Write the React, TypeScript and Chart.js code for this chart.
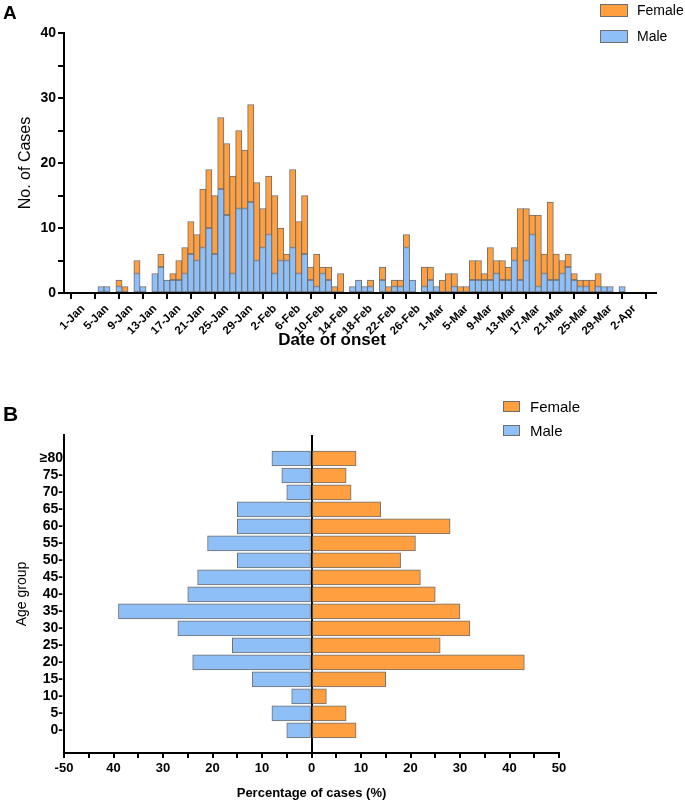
import React, { useEffect, useRef } from 'react';
import { Chart, registerables } from 'chart.js';

Chart.register(...registerables);

const FONT = "'Liberation Sans', Arial, sans-serif";
const ORANGE = '#FF9F40';
const BLUE = '#8EBFF7';
const EDGE = '#6E6E6E';

// ---------- Panel A data (days since 1-Jan, index 0..92) ----------
const dayTickValues = [0, 4, 8, 12, 16, 20, 24, 28, 32, 36, 40, 44, 48, 52, 56, 60, 64, 68, 72, 76, 80, 84, 88, 92];
const dayTickLabels = [
  '1-Jan', '5-Jan', '9-Jan', '13-Jan', '17-Jan', '21-Jan', '25-Jan', '29-Jan',
  '2-Feb', '6-Feb', '10-Feb', '14-Feb', '18-Feb', '22-Feb', '26-Feb',
  '1-Mar', '5-Mar', '9-Mar', '13-Mar', '17-Mar', '21-Mar', '25-Mar', '29-Mar', '2-Apr',
];
const maleDaily = [
  0, 0, 0, 1, 1, 0, 1, 0, 0, 3,
  1, 0, 3, 4, 2, 2, 2, 3, 6, 5,
  7, 10, 6, 16, 12, 3, 13, 13, 14, 5,
  7, 9, 3, 5, 5, 7, 3, 6, 2, 1,
  3, 2, 0, 0, 0, 1, 2, 1, 1, 0,
  2, 0, 1, 1, 7, 2, 0, 1, 2, 1,
  0, 0, 1, 0, 0, 2, 2, 2, 2, 3,
  2, 2, 5, 2, 5, 9, 1, 3, 2, 2,
  3, 4, 2, 1, 1, 0, 1, 1, 1, 0,
  1, 0, 0,
];
const femaleDaily = [
  0, 0, 0, 0, 0, 0, 1, 1, 0, 2,
  0, 0, 0, 2, 0, 1, 3, 4, 5, 4,
  9, 9, 9, 11, 11, 15, 12, 9, 15, 12,
  6, 9, 12, 5, 1, 12, 8, 9, 2, 5,
  1, 2, 1, 3, 0, 0, 0, 0, 1, 0,
  2, 1, 1, 1, 2, 0, 0, 3, 2, 0,
  2, 3, 2, 1, 1, 3, 3, 1, 5, 2,
  3, 2, 2, 11, 8, 3, 11, 3, 12, 4,
  2, 2, 1, 1, 1, 2, 2, 0, 0, 0,
  0, 0, 0,
];

// ---------- Panel B data (bottom to top) ----------
const ageGroups = ['0-', '5-', '10-', '15-', '20-', '25-', '30-', '35-', '40-', '45-', '50-', '55-', '60-', '65-', '70-', '75-', '≥80'];
const maleAgePct = [5, 8, 4, 12, 24, 16, 27, 39, 25, 23, 15, 21, 15, 15, 5, 6, 8];
const femaleAgePct = [9, 7, 3, 15, 43, 26, 32, 30, 25, 22, 18, 21, 28, 14, 8, 7, 9];
const pctTickValues = [-50, -40, -30, -20, -10, 0, 10, 20, 30, 40, 50];
const pctTickLabels = ['-50', '40', '30', '20', '10', '0', '10', '20', '30', '40', '50'];

type LegendItem = { label: string; color: string; x: number; y: number; w: number; h: number; tx: number; size: number };
type ExtraText = { text: string; x: number; y: number; font: string };

function overlayPlugin(id: string, letter: string, lx: number, ly: number, lsize: number, items: LegendItem[], extra: ExtraText[] = []) {
  return {
    id,
    afterDraw(chart: any) {
      const ctx = chart.ctx as CanvasRenderingContext2D;
      ctx.save();
      ctx.fillStyle = '#000';
      ctx.textBaseline = 'alphabetic';
      ctx.textAlign = 'left';
      ctx.font = `bold ${lsize}px ${FONT}`;
      ctx.fillText(letter, lx, ly);
      for (const it of items) {
        ctx.fillStyle = it.color;
        ctx.fillRect(it.x, it.y, it.w, it.h);
        ctx.strokeStyle = EDGE;
        ctx.lineWidth = 1;
        ctx.strokeRect(it.x + 0.5, it.y + 0.5, it.w - 1, it.h - 1);
        ctx.fillStyle = '#000';
        ctx.font = `${it.size}px ${FONT}`;
        ctx.textBaseline = 'middle';
        ctx.fillText(it.label, it.tx, it.y + it.h / 2 + 1);
      }
      for (const e of extra) {
        ctx.fillStyle = '#000';
        ctx.font = e.font;
        ctx.textAlign = 'center';
        ctx.textBaseline = 'middle';
        ctx.fillText(e.text, e.x, e.y);
      }
      ctx.restore();
    },
  };
}

function configA(): any {
  const toPts = (arr: number[]) => arr.map((v, i) => ({ x: i, y: v })).filter((p) => p.y > 0);
  return {
    type: 'bar',
    data: {
      datasets: [
        { label: 'Male', data: toPts(maleDaily), backgroundColor: BLUE, borderColor: EDGE, borderWidth: 1, borderSkipped: false, barThickness: 6.25 },
        { label: 'Female', data: toPts(femaleDaily), backgroundColor: ORANGE, borderColor: EDGE, borderWidth: 1, borderSkipped: false, barThickness: 6.25 },
      ],
    },
    options: {
      responsive: false,
      animation: false,
      layout: { padding: { left: 0, right: 29, top: 33, bottom: 0 } },
      plugins: { legend: { display: false }, tooltip: { enabled: false } },
      scales: {
        x: {
          type: 'linear',
          stacked: true,
          min: -1.12,
          max: 93.6,
          afterBuildTicks: (s: any) => { s.ticks = dayTickValues.map((v) => ({ value: v })); },
          afterFit: (s: any) => { s.height = 57; },
          ticks: {
            autoSkip: false, maxRotation: 45, minRotation: 45, padding: 3, color: '#000',
            font: { family: FONT, size: 11.5, weight: 'bold' },
            callback: (v: number) => { const i = dayTickValues.indexOf(v); return i >= 0 ? dayTickLabels[i] : ''; },
          },
          grid: { drawOnChartArea: false, tickLength: 6, color: '#000', lineWidth: 2 },
          border: { display: true, color: '#000', width: 2 },
          title: { display: false },
        },
        y: {
          stacked: true,
          min: 0,
          max: 40,
          afterFit: (s: any) => { s.width = 64; },
          ticks: {
            stepSize: 5, autoSkip: false, padding: 2, color: '#000',
            font: { family: FONT, size: 14, weight: 'bold' },
            callback: (v: number) => (v % 10 === 0 ? String(v) : ''),
          },
          grid: { drawOnChartArea: false, tickLength: 6, color: '#000', lineWidth: 2 },
          border: { display: true, color: '#000', width: 2 },
          title: { display: true, text: 'No. of Cases', color: '#000', font: { family: FONT, size: 16, weight: 'normal' }, padding: { top: 16, bottom: 0 } },
        },
      },
    },
    plugins: [
      overlayPlugin('overlayA', 'A', 3, 19, 19, [
        { label: 'Female', color: ORANGE, x: 600, y: 4, w: 28, h: 13, tx: 637, size: 14 },
        { label: 'Male', color: BLUE, x: 600, y: 30, w: 28, h: 13, tx: 637, size: 14 },
      ], [
        { text: 'Date of onset', x: 332, y: 340, font: `bold 17px ${FONT}` },
      ]),
    ],
  };
}

function configB(): any {
  return {
    type: 'bar',
    data: {
      datasets: [
        { label: 'Male', data: maleAgePct.map((v, i) => ({ x: -v, y: i })), backgroundColor: BLUE, borderColor: EDGE, borderWidth: 1, borderSkipped: false, barThickness: 15 },
        { label: 'Female', data: femaleAgePct.map((v, i) => ({ x: v, y: i })), backgroundColor: ORANGE, borderColor: EDGE, borderWidth: 1, borderSkipped: false, barThickness: 15 },
      ],
    },
    options: {
      indexAxis: 'y',
      responsive: false,
      animation: false,
      layout: { padding: { left: 0, right: 126, top: 55, bottom: 0 } },
      plugins: { legend: { display: false }, tooltip: { enabled: false } },
      scales: {
        x: {
          type: 'linear',
          stacked: true,
          min: -50,
          max: 50,
          afterBuildTicks: (s: any) => {
            const t: any[] = [];
            for (let v = -50; v <= 50; v += 5) t.push({ value: v });
            s.ticks = t;
          },
          afterFit: (s: any) => { s.height = 48; },
          ticks: {
            autoSkip: false, maxRotation: 0, padding: 3, color: '#000',
            font: { family: FONT, size: 13, weight: 'bold' },
            callback: (v: number) => { const i = pctTickValues.indexOf(v); return i >= 0 ? pctTickLabels[i] : ''; },
          },
          grid: {
            drawOnChartArea: true,
            color: (c: any) => (c.tick && c.tick.value === 0 ? '#000' : 'rgba(0,0,0,0)'),
            tickColor: '#000',
            tickLength: 5,
            lineWidth: 2,
          },
          border: { display: true, color: '#000', width: 2 },
          title: { display: true, text: 'Percentage of cases (%)', color: '#000', font: { family: FONT, size: 13, weight: 'bold' }, padding: { top: 0, bottom: 0 } },
        },
        y: {
          type: 'linear',
          stacked: true,
          min: -0.78,
          max: 16.83,
          afterBuildTicks: (s: any) => { s.ticks = ageGroups.map((_, i) => ({ value: i })); },
          afterFit: (s: any) => { s.width = 64; },
          ticks: {
            autoSkip: false, padding: 1, color: '#000',
            font: { family: FONT, size: 14, weight: 'bold' },
            callback: (v: number) => ageGroups[v] ?? '',
          },
          grid: { drawOnChartArea: false, drawTicks: false },
          border: { display: true, color: '#000', width: 2 },
          title: { display: true, text: 'Age group', color: '#000', font: { family: FONT, size: 14, weight: 'normal' }, padding: { top: 14, bottom: 0 } },
        },
      },
    },
    plugins: [
      overlayPlugin('overlayB', 'B', 3, 41, 21, [
        { label: 'Female', color: ORANGE, x: 503, y: 21, w: 17, h: 11, tx: 530, size: 15 },
        { label: 'Male', color: BLUE, x: 503, y: 45, w: 17, h: 11, tx: 530, size: 15 },
      ]),
    ],
  };
}

export default function App() {
  const refA = useRef<HTMLCanvasElement>(null);
  const refB = useRef<HTMLCanvasElement>(null);
  useEffect(() => {
    const a = new Chart(refA.current as HTMLCanvasElement, configA());
    const b = new Chart(refB.current as HTMLCanvasElement, configB());
    return () => {
      a.destroy();
      b.destroy();
    };
  }, []);
  return (
    <div style={{ position: 'absolute', left: 0, top: 0, width: 685, height: 801, background: '#fff' }}>
      <canvas ref={refA} width={685} height={350} style={{ position: 'absolute', left: 0, top: 0, display: 'block' }} />
      <canvas ref={refB} width={685} height={421} style={{ position: 'absolute', left: 0, top: 380, display: 'block' }} />
    </div>
  );
}
